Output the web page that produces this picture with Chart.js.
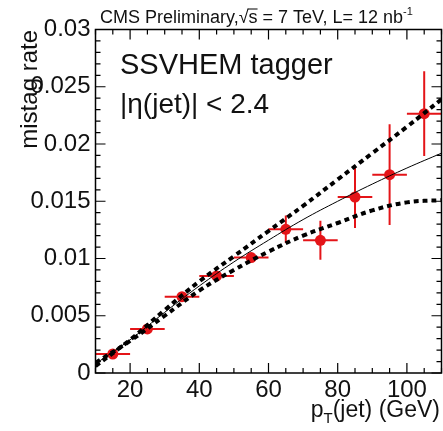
<!DOCTYPE html>
<html><head><meta charset="utf-8">
<script src="https://cdn.jsdelivr.net/npm/chart.js@4.4.0/dist/chart.umd.min.js"></script>
<style>
html,body{margin:0;padding:0;background:#fff;overflow:hidden;width:443px;height:431px}
#wrap{position:relative;width:447px;height:431px}
</style>
</head><body><div id="wrap"><canvas id="c" width="447" height="431"></canvas></div>
<script>
// ---- data ----
const ptCenters    = [15, 25, 35, 45, 55, 65, 75, 85, 95, 105];
const ptHalfWidths = [5, 5, 5, 5, 5, 5, 5, 5, 5, 5];
const mistagRates  = [0.00166, 0.00385, 0.00667, 0.00848, 0.01008, 0.01255, 0.01159, 0.01537, 0.01732, 0.02265];
const mistagErrors = [0.0001, 0.0002, 0.0002, 0.0003, 0.0004, 0.0012, 0.0017, 0.0027, 0.0044, 0.0037];

const fitPt      = [10, 20, 30, 40, 50, 60, 70, 80, 90, 100, 110];
const fitCentral = [0.0008, 0.0029, 0.0053, 0.0076, 0.0097, 0.0116, 0.0134, 0.0150, 0.0165, 0.0179, 0.0192];
const fitUpper   = [0.0006, 0.0029, 0.0055, 0.0080, 0.0102, 0.0124, 0.0146, 0.0169, 0.0192, 0.0215, 0.0239];
const fitLower   = [0.0009, 0.0028, 0.0050, 0.0072, 0.0090, 0.0106, 0.0120, 0.0131, 0.0142, 0.0149, 0.0151];

const xTickValues = [20, 40, 60, 80, 100];
const yTickValues = [0, 0.005, 0.01, 0.015, 0.02, 0.025, 0.03];
const yTickLabels = ['0', '0.005', '0.01', '0.015', '0.02', '0.025', '0.03'];

const FONT = '"Liberation Sans", Arial, Helvetica, sans-serif';
const RED = 'rgb(228,20,24)';

const errorBars = {
  id: 'errorBars',
  beforeDatasetsDraw(chart) {
    const {ctx, chartArea: a, scales: {x, y}} = chart;
    ctx.save();
    ctx.beginPath(); ctx.rect(a.left, a.top, a.right - a.left, a.bottom - a.top); ctx.clip();
    ctx.strokeStyle = RED; ctx.lineWidth = 2;
    ptCenters.forEach((c, i) => {
      const px = x.getPixelForValue(c), py = y.getPixelForValue(mistagRates[i]);
      ctx.beginPath();
      ctx.moveTo(x.getPixelForValue(c - ptHalfWidths[i]), py);
      ctx.lineTo(x.getPixelForValue(c + ptHalfWidths[i]), py);
      ctx.moveTo(px, y.getPixelForValue(mistagRates[i] - mistagErrors[i]));
      ctx.lineTo(px, y.getPixelForValue(mistagRates[i] + mistagErrors[i]));
      ctx.stroke();
    });
    ctx.restore();
  }
};

const frame = {
  id: 'frame',
  afterDraw(chart) {
    const {ctx, chartArea: a, scales: {x, y}} = chart;
    ctx.save();
    ctx.strokeStyle = '#000'; ctx.lineWidth = 1.5;
    ctx.strokeRect(a.left, a.top, a.right - a.left, a.bottom - a.top);
    ctx.lineWidth = 1.2;
    ctx.beginPath();
    for (let v = 10; v <= 110.001; v += 5) {
      const px = x.getPixelForValue(v);
      const L = (Math.round(v) % 20 === 0) ? 10 : 5;
      ctx.moveTo(px, a.bottom); ctx.lineTo(px, a.bottom - L);
      ctx.moveTo(px, a.top); ctx.lineTo(px, a.top + L);
    }
    for (let k = 0; k <= 30; k++) {
      const v = k * 0.001;
      const py = y.getPixelForValue(v);
      const L = (k % 5 === 0) ? 10 : 5;
      ctx.moveTo(a.left, py); ctx.lineTo(a.left + L, py);
      ctx.moveTo(a.right, py); ctx.lineTo(a.right - L, py);
    }
    ctx.stroke();

    ctx.fillStyle = '#111';
    // top title
    let tx = 100, ty = 23;
    ctx.font = '18px ' + FONT; ctx.textBaseline = 'alphabetic'; ctx.textAlign = 'left';
    const p1 = 'CMS Preliminary,';
    ctx.fillText(p1, tx, ty); tx += ctx.measureText(p1).width;
    ctx.fillText('\u221A', tx, ty); tx += ctx.measureText('\u221A').width;
    const sw = ctx.measureText('s').width;
    ctx.fillText('s', tx, ty);
    ctx.lineWidth = 1; ctx.beginPath(); ctx.moveTo(tx - 1, ty - 14); ctx.lineTo(tx + sw, ty - 14); ctx.stroke();
    tx += sw;
    const p2 = ' = 7 TeV, L= 12 nb';
    ctx.fillText(p2, tx, ty); tx += ctx.measureText(p2).width;
    ctx.font = '11px ' + FONT;
    ctx.fillText('-1', tx, ty - 8);

    // annotation
    ctx.font = '29px ' + FONT;
    ctx.fillText('SSVHEM tagger', 120, 74);
    ctx.font = '28px ' + FONT;
    ctx.fillText('|\u03B7(jet)| < 2.4', 120, 113);

    // x title
    ctx.font = '23px ' + FONT;
    const w1 = ctx.measureText('p').width, w3 = ctx.measureText('(jet) (GeV)').width;
    ctx.font = '15px ' + FONT;
    const w2 = ctx.measureText('T').width;
    let xx = 440 - (w1 + w2 + w3), xb = 417;
    ctx.font = '23px ' + FONT; ctx.fillText('p', xx, xb); xx += w1;
    ctx.font = '15px ' + FONT; ctx.fillText('T', xx, xb + 6); xx += w2;
    ctx.font = '23px ' + FONT; ctx.fillText('(jet) (GeV)', xx, xb);

    // y title
    ctx.save();
    ctx.translate(37, 30); ctx.rotate(-Math.PI / 2);
    ctx.font = '24px ' + FONT; ctx.textAlign = 'right';
    ctx.fillText('mistag rate', 0, 0);
    ctx.restore();
    ctx.restore();
  }
};

const lineDs = (vals, w, dash) => ({
  type: 'line',
  data: fitPt.map((v, i) => ({x: v, y: vals[i]})),
  borderColor: '#000', borderWidth: w, borderDash: dash,
  pointRadius: 0, tension: 0.4, fill: false
});

new Chart(document.getElementById('c'), {
  type: 'scatter',
  data: {
    datasets: [
      lineDs(fitUpper, 4, [5, 4]),
      lineDs(fitLower, 4, [5, 4]),
      lineDs(fitCentral, 1, []),
      {
        type: 'scatter',
        data: ptCenters.map((c, i) => ({x: c, y: mistagRates[i]})),
        backgroundColor: RED, borderColor: RED, pointRadius: 5.5, borderWidth: 0
      }
    ]
  },
  options: {
    responsive: false, animation: false, events: [],
    plugins: {legend: {display: false}, tooltip: {enabled: false}},
    layout: {padding: {top: 29.5, right: 1.5, left: 0, bottom: 0}},
    scales: {
      x: {
        type: 'linear', min: 10, max: 110,
        afterBuildTicks: a => { a.ticks = xTickValues.map(v => ({value: v})); },
        afterFit: s => { s.height = 58; },
        grid: {display: false, drawTicks: false}, border: {display: false},
        ticks: {font: {family: FONT, size: 24}, color: '#111', padding: 3, maxRotation: 0, autoSkip: false}
      },
      y: {
        type: 'linear', min: 0, max: 0.03,
        afterBuildTicks: a => { a.ticks = yTickValues.map(v => ({value: v})); },
        afterFit: s => { s.width = 95.5; },
        grid: {display: false, drawTicks: false}, border: {display: false},
        ticks: {font: {family: FONT, size: 24}, color: '#111', padding: 5, autoSkip: false,
                callback: (v, i) => yTickLabels[i]}
      }
    }
  },
  plugins: [errorBars, frame]
});
</script>
</body></html>
